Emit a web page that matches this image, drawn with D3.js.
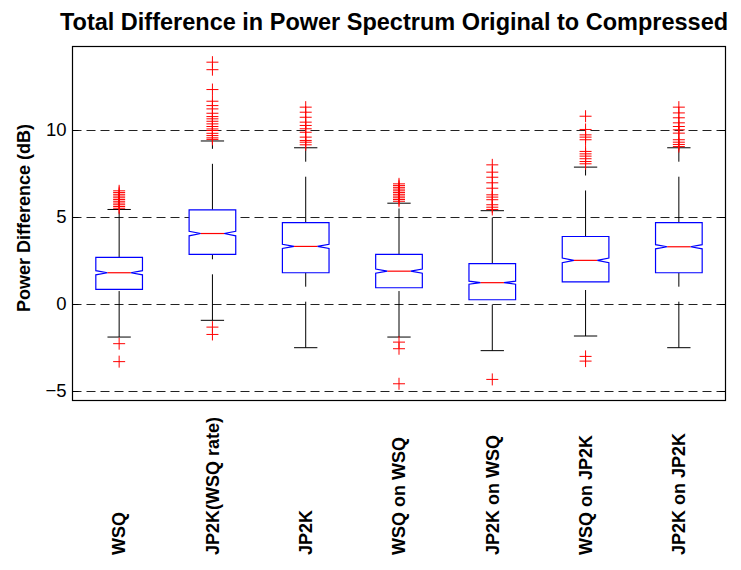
<!DOCTYPE html>
<html>
<head>
<meta charset="utf-8">
<script src="https://cdn.jsdelivr.net/npm/d3@7"></script>
<style>
  html, body { margin: 0; padding: 0; background: #fff; }
  svg { display: block; }
  text { font-family: "Liberation Sans", Arial, sans-serif; }
</style>
</head>
<body>
<svg id="chart" width="741" height="570"></svg>
<script>
// ---- data ----
const categories = ["WSQ", "JP2K(WSQ rate)", "JP2K", "WSQ on WSQ", "JP2K on WSQ", "WSQ on JP2K", "JP2K on JP2K"];
const q1      = [0.84, 2.85, 1.80, 0.94, 0.25, 1.28, 1.80];
const medians = [1.80, 4.05, 3.31, 1.89, 1.23, 2.51, 3.29];
const q3      = [2.68, 5.41, 4.67, 2.85, 2.32, 3.88, 4.67];
const whiskerLow  = [-1.89, -0.93, -2.50, -1.89, -2.67, -1.83, -2.50];
const whiskerHigh = [5.43, 9.36, 8.97, 5.79, 5.36, 7.86, 8.97];
const notchHalf   = [0.12, 0.13, 0.12, 0.12, 0.09, 0.13, 0.12];
const outliers = [
  [6.50, 6.40, 6.30, 6.20, 6.10, 6.00, 5.90, 5.80, 5.70, 5.60, 5.50, -2.27, -3.30],
  [13.88, 13.45, 12.31, 11.64, 11.39, 11.20, 10.95, 10.76, 10.63, 10.49, 10.34, 10.19, 10.05, 9.96, 9.80, 9.67, 9.54, 9.45, -1.32, -1.74],
  [11.30, 11.01, 10.72, 10.44, 10.25, 10.06, 9.86, 9.58, 9.39, 9.29, 9.14],
  [6.90, 6.80, 6.70, 6.60, 6.50, 6.40, 6.30, 6.20, 6.10, 6.00, 5.90, -2.18, -2.56, -4.57],
  [7.99, 7.57, 7.28, 6.96, 6.65, 6.27, 6.14, 5.99, 5.70, 5.56, 5.43, -4.32],
  [10.78, 10.02, 9.71, 9.58, 9.43, 8.76, 8.62, 8.49, 8.34, 8.18, 8.05, -3.00, -3.27],
  [11.30, 10.97, 10.69, 10.40, 10.19, 10.00, 9.81, 9.43, 9.29, 9.16, 9.04]
];
const yTicks = [-5, 0, 5, 10];
const yDomain = [-5.53, 14.78];
const titleText = "Total Difference in Power Spectrum Original to Compressed";
const yLabelText = "Power Difference (dB)";

// ---- layout ----
const L = 72.5, R = 725.5, T = 46.5, B = 400.5;
const svg = d3.select("#chart");
const x = d3.scaleLinear().domain([0.5, categories.length + 0.5]).range([L, R]);
const y = d3.scaleLinear().domain(yDomain).range([B, T]);
const bw = x(1.25) - x(1); // half box width (box width = 0.5)

// grid lines
svg.append("g").selectAll("line").data(yTicks).join("line")
  .attr("x1", L).attr("x2", R)
  .attr("y1", d => Math.round(y(d)) + 0.5).attr("y2", d => Math.round(y(d)) + 0.5)
  .attr("stroke", "#222").attr("stroke-width", 1).attr("stroke-dasharray", "9,5");

// axes (inside ticks)
const axL = d3.axisLeft(y).tickValues(yTicks).tickSize(-6).tickPadding(6).tickFormat(d3.format("d"));
const gL = svg.append("g").attr("transform", `translate(${L},0)`).call(axL);
const axR = d3.axisRight(y).tickValues(yTicks).tickSize(-6).tickFormat("");
const gR = svg.append("g").attr("transform", `translate(${R},0)`).call(axR);
[gL, gR].forEach(g => {
  g.select(".domain").remove();
  g.selectAll(".tick line").attr("stroke", "#000");
  g.selectAll(".tick").attr("transform", d => `translate(0,${Math.round(y(d)) + 0.5})`);
});
gL.selectAll(".tick text").attr("font-size", 18.5).attr("fill", "#000")
  .attr("font-family", "Liberation Sans, Arial, sans-serif");

// frame
svg.append("rect").attr("x", L).attr("y", T).attr("width", R - L).attr("height", B - T)
  .attr("fill", "none").attr("stroke", "#000").attr("stroke-width", 1.2);

// boxes
const boxes = categories.map((c, i) => ({
  c, i, pos: i + 1, q1: q1[i], med: medians[i], q3: q3[i],
  lo: whiskerLow[i], hi: whiskerHigh[i], nh: notchHalf[i], out: outliers[i]
}));

const g = svg.append("g");
boxes.forEach(b => {
  const cx = x(b.pos);
  const gb = g.append("g");
  // whiskers (dashed, drawn from lower value to higher value)
  gb.append("line").attr("x1", cx).attr("x2", cx).attr("y1", y(b.q3)).attr("y2", y(b.hi))
    .attr("stroke", "#000").attr("stroke-dasharray", "46,15");
  gb.append("line").attr("x1", cx).attr("x2", cx).attr("y1", y(b.lo)).attr("y2", y(b.q1))
    .attr("stroke", "#000").attr("stroke-dasharray", "46,15");
  // caps
  [b.lo, b.hi].forEach(v => {
    gb.append("line").attr("x1", cx - bw / 2).attr("x2", cx + bw / 2)
      .attr("y1", y(v)).attr("y2", y(v)).attr("stroke", "#000");
  });
  // notched box
  const pts = [
    [cx - bw, y(b.q1)], [cx - bw, y(b.med - b.nh)], [cx - bw / 2, y(b.med)], [cx - bw, y(b.med + b.nh)],
    [cx - bw, y(b.q3)], [cx + bw, y(b.q3)], [cx + bw, y(b.med + b.nh)], [cx + bw / 2, y(b.med)],
    [cx + bw, y(b.med - b.nh)], [cx + bw, y(b.q1)]
  ];
  gb.append("path").attr("d", d3.line()(pts) + "Z")
    .attr("fill", "#fff").attr("stroke", "#0000ff").attr("stroke-width", 1.2);
  // median
  gb.append("line").attr("x1", cx - bw / 2).attr("x2", cx + bw / 2)
    .attr("y1", y(b.med)).attr("y2", y(b.med)).attr("stroke", "#ff0000").attr("stroke-width", 1.2);
  // outliers
  const m = 6;
  gb.selectAll("path.out").data(b.out).join("path").attr("class", "out")
    .attr("d", v => `M${cx - m},${y(v)}H${cx + m}M${cx},${y(v) - m}V${y(v) + m}`)
    .attr("stroke", "#ff0000").attr("stroke-width", 1).attr("fill", "none");
});

// x labels (rotated)
svg.append("g").selectAll("text").data(boxes).join("text")
  .attr("transform", d => `translate(${x(d.pos)},555) rotate(-90)`)
  .attr("dy", "0.35em").attr("text-anchor", "start")
  .attr("font-size", 18).attr("font-weight", "bold").text(d => d.c);

// y label
svg.append("text").attr("transform", "translate(24,218) rotate(-90)")
  .attr("dy", "0.35em").attr("text-anchor", "middle")
  .attr("font-size", 18).attr("font-weight", "bold").text(yLabelText);

// title
svg.append("text").attr("x", 394).attr("y", 30).attr("text-anchor", "middle")
  .attr("font-size", 23.5).attr("font-weight", "bold").text(titleText);
</script>
</body>
</html>
